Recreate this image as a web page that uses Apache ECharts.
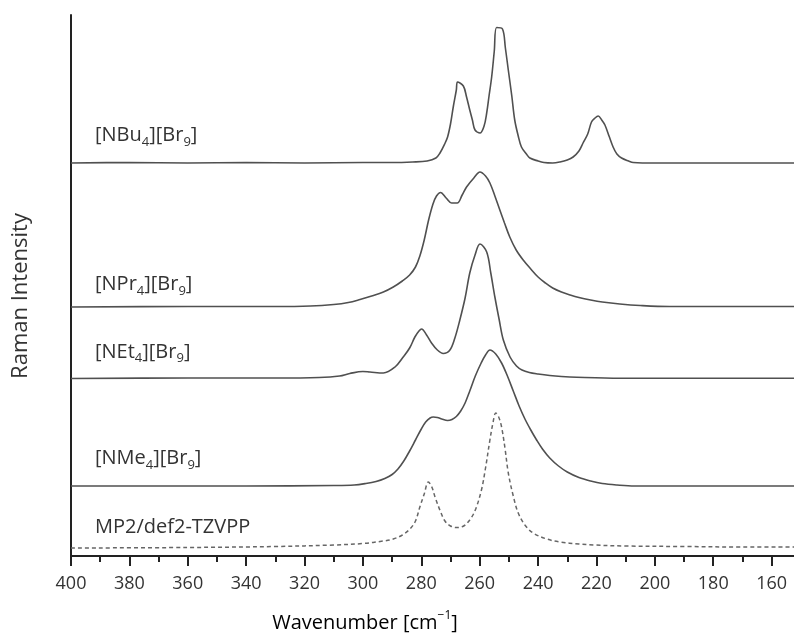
<!DOCTYPE html>
<html>
<head>
<meta charset="utf-8">
<script src="https://cdn.jsdelivr.net/npm/echarts@6/dist/echarts.min.js"></script>
<style>html,body{margin:0;padding:0;background:#fff;}#c{width:794px;height:635px;}</style>
</head>
<body>
<div id="c"></div>
<script>
// x tick values (wavenumber, cm^-1)
const xTicks = [400, 380, 360, 340, 320, 300, 280, 260, 240, 220, 200, 180, 160];

// Spectra: [wavenumber, stacked intensity (arbitrary units, offset per trace)]
const nbu4 = [[400,393],[380,393.5],[360,393],[340,393.5],[320,393],[300,393.5],[290,393.5],[283,394],[278,395],[275,398],[273.6,403],[272,412],[271,419],[270,432],[269,450],[268,466],[267.6,474],[265.6,470],[264.5,459],[263.4,446],[262.5,436],[261.6,426],[259.9,423],[258.5,430],[257.6,443],[256.8,460],[255.9,479],[255,505],[254.2,528.5],[252.2,527],[251.2,508],[250.2,486],[249,460],[248,436],[246.8,420],[245.7,409],[244,402],[242.8,398],[240,395],[238,393.5],[235,393],[232.5,394],[230,396],[228,399],[226,405],[224.6,413],[223,422],[221.7,434],[220.5,438],[219.4,440],[218.2,436],[217.1,431],[215.7,420],[214.3,409],[213,402],[211.4,398],[209,395],[207.4,393.5],[200,393],[180,393],[160,393],[150,393]];

const npr4 = [[400,249],[360,249.5],[330,249.5],[318,250],[310,251.5],[305,253.5],[301,256.5],[297,260],[293,264],[289.6,269],[286.5,275],[284,281],[282,289],[280.5,300],[279,316],[277.5,336],[276,352],[274.8,360],[273.4,363.5],[271.5,358],[269.6,353],[267.7,353],[266,361],[264.5,369],[262,378],[259.9,384],[258,380],[256.5,373],[254.8,360],[253.1,346],[251.5,333],[249.7,319],[247.5,306],[245.1,296],[242.5,287],[240,279],[237.5,273],[235,268],[232,264],[229,261],[226,258.5],[222,256],[218,254],[212,252],[205,250.5],[195,249.5],[150,249.5]];

const net4 = [[400,177.5],[360,178],[330,178],[315,178.5],[308,180],[304.5,182.5],[300,184.5],[297.6,184],[293,183],[289,189],[286.2,199],[284,208],[282.2,219],[280.8,225],[279.9,227],[278.2,221],[276.5,213],[274.5,206],[272.5,202.5],[270.2,206],[268.5,218],[266.8,236],[265,258],[263.4,283],[261.6,301],[259.9,312],[257.6,304],[256.2,283],[254.8,259],[253.3,236],[251.9,216],[249.6,199],[247.4,190],[245.5,186],[243,183.5],[240,182],[236,180.5],[232,179.5],[226.8,178.7],[212,177.7],[150,177.7]];

const nme4 = [[400,70],[340,70],[310,70.5],[303,71],[299,72.5],[295.5,74.5],[292.5,77.5],[290,81.5],[288,87],[286,95],[284,105],[282,116],[280,127],[278.5,134],[277,138],[275.9,139],[274.5,138.5],[273,137],[271,135.5],[269.5,136.5],[268,139.5],[266.5,145],[265,153],[263.4,165],[261.5,180],[259.5,193],[258,201],[256.5,206],[254.5,202],[252.5,193],[250.5,180],[248.5,165],[246.5,150],[244.5,137],[242.5,126],[240.5,116],[238.5,107],[236,98],[233,90],[230,84],[226,78.5],[222,75],[218,72.5],[213,71],[207,70],[150,70]];

const mp2 = [[400,8],[360,8.5],[330,9.5],[310,11],[300,12.5],[293,15],[289.6,17],[286.5,21],[283.9,27],[282,35],[280.5,49],[279,62],[277.6,74],[276.4,69],[275.3,59],[273.5,45],[271.9,35],[270,30],[267.9,28.5],[265.5,30],[263.4,36],[261.5,46],[259.4,66],[258,88],[256.5,116],[255.4,134],[254.5,143],[253.5,139],[252.5,129],[251.3,107],[250.2,83],[248.5,60],[246.8,43],[244.5,31],[241.7,23],[237,17],[232.5,14],[226,12],[221,11],[210,10],[190,9.5],[170,9],[150,9]];

const traceLabels = [
  {text: '{n|[NBu}{s|4}{n|][Br}{s|9}{n|]}', y: 138.5},
  {text: '{n|[NPr}{s|4}{n|][Br}{s|9}{n|]}', y: 287.5},
  {text: '{n|[NEt}{s|4}{n|][Br}{s|9}{n|]}', y: 355},
  {text: '{n|[NMe}{s|4}{n|][Br}{s|9}{n|]}', y: 461.5},
  {text: '{n|MP2/def2-TZVPP}', y: 530}
];

const FONT = '"Open Sans", "Noto Sans", sans-serif';
const TXT = '#333';
const LINE = '#505050';
const AX = '#222';

const rich = {
  n: {fontSize: 20, lineHeight: 26, verticalAlign: 'middle', fontFamily: FONT, color: TXT},
  s: {fontSize: 13, lineHeight: 13, verticalAlign: 'bottom', fontFamily: FONT, color: TXT}
};

const chart = echarts.init(document.getElementById('c'), null, {renderer: 'canvas'});

function solid(name, data) {
  return {
    name: name, type: 'line', data: data, showSymbol: false,
    smooth: 0.35,
    lineStyle: {color: LINE, width: 1.6}, silent: true, z: 3
  };
}

const graphics = traceLabels.map(function (l) {
  return {
    type: 'text', left: 95, top: l.y - 13,
    style: {text: l.text, rich: rich, fill: TXT, fontFamily: FONT, fontSize: 20}
  };
});
graphics.push({
  type: 'text', x: 365, y: 623,
  style: {
    text: '{n|Wavenumber [cm}{p|−1}{n|]}', align: 'center', verticalAlign: 'middle',
    rich: {
      n: {fontSize: 20, lineHeight: 26, verticalAlign: 'middle', fontFamily: FONT, color: TXT},
      p: {fontSize: 12, lineHeight: 12, verticalAlign: 'top', fontFamily: FONT, color: TXT}
    }
  }
});
graphics.push({
  type: 'text', x: 21, y: 296, rotation: Math.PI / 2,
  style: {text: 'Raman Intensity', align: 'center', verticalAlign: 'middle', fontSize: 22, fontFamily: FONT, fill: TXT}
});

chart.setOption({
  animation: false,
  backgroundColor: '#fff',
  grid: {left: 71, top: 15, width: 759, height: 541, outerBoundsMode: 'none', containLabel: false},
  xAxis: {
    type: 'value', inverse: true, min: 140, max: 400, interval: 20,
    axisLine: {show: true, lineStyle: {color: AX, width: 2}},
    axisTick: {show: true, length: 10, lineStyle: {color: AX, width: 2}},
    minorTick: {show: true, splitNumber: 2, length: 6, lineStyle: {color: AX, width: 2}},
    splitLine: {show: false},
    axisLabel: {
      margin: 19, fontSize: 18, fontFamily: FONT, color: TXT,
      formatter: function (v) { return xTicks.indexOf(v) >= 0 ? String(v) : ''; }
    }
  },
  yAxis: {
    type: 'value', min: 0, max: 541,
    axisLine: {show: true, lineStyle: {color: AX, width: 2}},
    axisTick: {show: false}, axisLabel: {show: false}, splitLine: {show: false}
  },
  series: [
    solid('[NBu4][Br9]', nbu4),
    solid('[NPr4][Br9]', npr4),
    solid('[NEt4][Br9]', net4),
    solid('[NMe4][Br9]', nme4),
    {
      name: 'MP2/def2-TZVPP', type: 'line', data: mp2, showSymbol: false,
      smooth: 0.35,
      lineStyle: {color: '#666', width: 1.5, type: [4, 3]}, silent: true, z: 3
    }
  ],
  graphic: graphics
});
</script>
</body>
</html>
